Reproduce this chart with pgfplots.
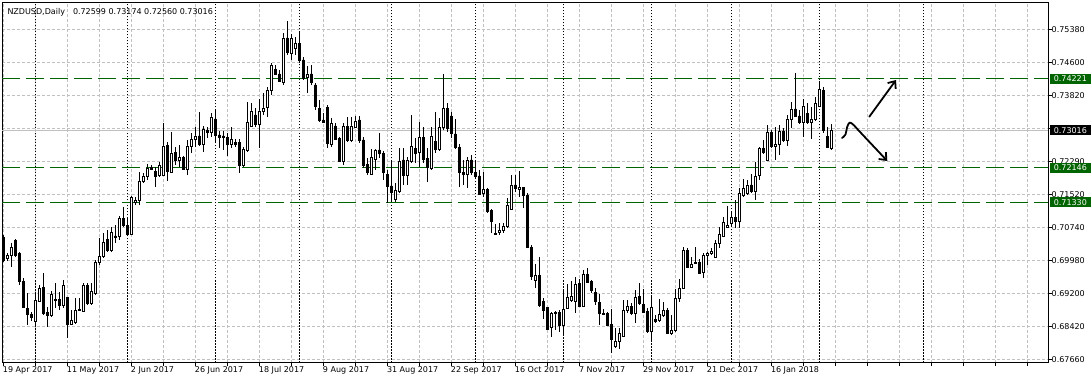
\documentclass[border=0pt]{standalone}
\usepackage{fontspec}
\setmainfont{DejaVu Sans}
\usepackage{pgfplots}
\usepackage{pgfplotstable}
\pgfplotsset{compat=1.18}
\usetikzlibrary{arrows.meta}
\definecolor{mtgreen}{RGB}{0,100,0}
\definecolor{mtgrid}{RGB}{192,192,192}

\pgfplotstableread{
j o h l c
0 0.70513 0.70568 0.69944 0.69983
1 0.70022 0.70155 0.69967 0.70100
2 0.70084 0.70373 0.69827 0.70279
3 0.70451 0.70482 0.70061 0.70084
4 0.70139 0.70162 0.69398 0.69476
5 0.69476 0.69554 0.68852 0.68875
6 0.68852 0.69203 0.68462 0.68712
7 0.68719 0.68774 0.68563 0.68634
8 0.68540 0.69203 0.68462 0.69047
9 0.69024 0.69398 0.69008 0.69320
10 0.69343 0.69671 0.68696 0.68735
11 0.68758 0.68891 0.68407 0.68680
12 0.68696 0.69265 0.68657 0.69180
13 0.69063 0.69437 0.68852 0.69031
14 0.69070 0.69242 0.68813 0.68914
15 0.68930 0.69515 0.68852 0.69398
16 0.69102 0.69110 0.68166 0.68478
17 0.68478 0.68813 0.68462 0.68579
18 0.68517 0.69086 0.68485 0.68813
19 0.68813 0.69086 0.68797 0.68829
20 0.68790 0.69453 0.68774 0.69398
21 0.69398 0.69453 0.68930 0.68969
22 0.68969 0.69437 0.68930 0.69258
23 0.69203 0.69983 0.69164 0.69928
24 0.69928 0.70490 0.69866 0.70061
25 0.70061 0.70607 0.70022 0.70396
26 0.70467 0.70685 0.70178 0.70201
27 0.70201 0.70763 0.70178 0.70630
28 0.70545 0.70802 0.70373 0.70513
29 0.70545 0.71013 0.70451 0.70958
30 0.70958 0.71215 0.70763 0.70786
31 0.70786 0.70997 0.70568 0.70584
32 0.70584 0.71481 0.70568 0.71449
33 0.71340 0.71465 0.71270 0.71387
34 0.71387 0.72050 0.71270 0.71816
35 0.71816 0.72011 0.71777 0.71949
36 0.71933 0.72222 0.71855 0.72128
37 0.72144 0.72206 0.72089 0.72105
38 0.72050 0.72167 0.71699 0.71933
39 0.71972 0.72284 0.71933 0.72198
40 0.71972 0.73181 0.71956 0.72651
41 0.72666 0.72752 0.71839 0.72050
42 0.72027 0.72986 0.72011 0.72487
43 0.72502 0.72635 0.72206 0.72323
44 0.72307 0.72674 0.72167 0.72385
45 0.72385 0.72417 0.72089 0.72105
46 0.72105 0.72791 0.71972 0.72651
47 0.72635 0.72963 0.72479 0.72807
48 0.72807 0.73103 0.72635 0.72885
49 0.72885 0.73446 0.72658 0.72682
50 0.72697 0.73119 0.72518 0.73041
51 0.73025 0.73087 0.72830 0.72963
52 0.72963 0.73431 0.72869 0.73329
53 0.73282 0.73493 0.72713 0.72908
54 0.72908 0.73009 0.72596 0.72853
55 0.72885 0.73009 0.72557 0.72846
56 0.72853 0.72963 0.72424 0.72697
57 0.72697 0.73103 0.72596 0.72807
58 0.72729 0.72807 0.72635 0.72697
59 0.72729 0.72807 0.72011 0.72190
60 0.72206 0.72635 0.72167 0.72573
61 0.72541 0.73688 0.72518 0.73197
62 0.73119 0.73649 0.73103 0.73470
63 0.73376 0.73532 0.73103 0.73165
64 0.73165 0.73743 0.72596 0.73470
65 0.73454 0.73883 0.73376 0.73540
66 0.73555 0.74039 0.73337 0.73961
67 0.73961 0.74601 0.73844 0.74546
68 0.74445 0.74538 0.74312 0.74335
69 0.74335 0.74429 0.74150 0.74156
70 0.74133 0.75287 0.74078 0.75178
71 0.75178 0.75576 0.74780 0.74835
72 0.74819 0.75264 0.74663 0.75170
73 0.74936 0.75209 0.74780 0.75053
74 0.75053 0.75326 0.74585 0.74647
75 0.74663 0.74741 0.74195 0.74234
76 0.74257 0.74523 0.73883 0.74335
77 0.74335 0.74546 0.74078 0.74133
78 0.74078 0.74117 0.73493 0.73587
79 0.73524 0.73727 0.73220 0.73243
80 0.73259 0.73415 0.73181 0.73197
81 0.73555 0.73610 0.72596 0.72713
82 0.72697 0.73298 0.72635 0.73181
83 0.73119 0.73181 0.72791 0.72807
84 0.72830 0.72869 0.72270 0.72284
85 0.72284 0.73181 0.72206 0.73103
86 0.73103 0.73337 0.72752 0.72791
87 0.72775 0.73337 0.72752 0.73119
88 0.73087 0.73353 0.73064 0.73236
89 0.73259 0.73353 0.72729 0.72775
90 0.72791 0.72869 0.72128 0.72206
91 0.72229 0.72362 0.71972 0.72027
92 0.71988 0.72573 0.71972 0.72385
93 0.72339 0.72573 0.72089 0.72557
94 0.72557 0.72963 0.72362 0.72479
95 0.72479 0.72541 0.71855 0.72034
96 0.71995 0.72089 0.71325 0.71699
97 0.71715 0.72300 0.71348 0.71559
98 0.71403 0.71793 0.71348 0.71605
99 0.71582 0.72596 0.71559 0.72284
100 0.72323 0.72596 0.71738 0.71956
101 0.71956 0.72385 0.71738 0.72323
102 0.72284 0.73376 0.72245 0.72635
103 0.72596 0.72830 0.72245 0.72479
104 0.72495 0.73220 0.72167 0.72846
105 0.72853 0.73103 0.72245 0.72346
106 0.72362 0.72596 0.71816 0.72144
107 0.72128 0.73087 0.72089 0.72885
108 0.72752 0.73454 0.72479 0.72573
109 0.72573 0.73298 0.72541 0.73087
110 0.73080 0.74335 0.73025 0.73532
111 0.73532 0.73649 0.72986 0.73064
112 0.73353 0.73454 0.72830 0.72947
113 0.72931 0.73282 0.72573 0.72619
114 0.72619 0.72697 0.71699 0.72027
115 0.72027 0.72323 0.71738 0.71988
116 0.71995 0.72401 0.71660 0.72323
117 0.72323 0.72440 0.71972 0.72027
118 0.72034 0.72323 0.71894 0.71933
119 0.71949 0.72089 0.71504 0.71527
120 0.71543 0.72050 0.71465 0.71644
121 0.71644 0.71660 0.71091 0.71114
122 0.71137 0.71169 0.70607 0.70880
123 0.70607 0.70825 0.70568 0.70584
124 0.70630 0.70857 0.70568 0.70685
125 0.70669 0.70857 0.70607 0.70779
126 0.70763 0.71426 0.70740 0.71270
127 0.71176 0.71972 0.71153 0.71738
128 0.71738 0.71972 0.71582 0.71660
129 0.71637 0.72066 0.71465 0.71683
130 0.71676 0.71699 0.71192 0.71488
131 0.71504 0.71543 0.70256 0.70279
132 0.70279 0.70334 0.69515 0.69593
133 0.69499 0.69889 0.69320 0.69632
134 0.69632 0.70061 0.68891 0.68930
135 0.69008 0.69086 0.68595 0.68813
136 0.68875 0.68891 0.68345 0.68361
137 0.68407 0.68774 0.68173 0.68735
138 0.68758 0.68797 0.68345 0.68735
139 0.68758 0.68813 0.68306 0.68462
140 0.68462 0.69297 0.68228 0.68829
141 0.68852 0.69421 0.68829 0.69109
142 0.69047 0.69499 0.69008 0.69125
143 0.69008 0.69593 0.68751 0.69421
144 0.69437 0.69531 0.68891 0.68907
145 0.68907 0.69749 0.68891 0.69648
146 0.69648 0.69788 0.69453 0.69468
147 0.69476 0.69515 0.69203 0.69281
148 0.69219 0.69320 0.68930 0.69008
149 0.68985 0.69187 0.68462 0.68735
150 0.68735 0.68829 0.68696 0.68719
151 0.68735 0.68774 0.68439 0.68462
152 0.68485 0.68829 0.67799 0.68127
153 0.67955 0.68384 0.67916 0.68088
154 0.68088 0.68384 0.67893 0.68267
155 0.68189 0.69047 0.68173 0.68813
156 0.68813 0.69047 0.68735 0.68891
157 0.68891 0.68969 0.68696 0.68735
158 0.68735 0.69281 0.68517 0.69109
159 0.69125 0.69437 0.68930 0.68969
160 0.68953 0.69297 0.68735 0.68758
161 0.68790 0.68852 0.68283 0.68306
162 0.68306 0.69141 0.68095 0.68875
163 0.68595 0.68696 0.68517 0.68556
164 0.68563 0.69063 0.68540 0.68719
165 0.68696 0.69008 0.68657 0.68797
166 0.68813 0.68852 0.68244 0.68267
167 0.68267 0.68696 0.68228 0.68345
168 0.68329 0.69297 0.68306 0.69086
169 0.69086 0.69531 0.69008 0.69320
170 0.69320 0.70279 0.69297 0.70217
171 0.70217 0.70256 0.69788 0.69811
172 0.69804 0.70061 0.69788 0.69882
173 0.69936 0.70295 0.69897 0.69905
174 0.69936 0.69999 0.69655 0.69671
175 0.69687 0.70139 0.69554 0.70100
176 0.70092 0.70178 0.69866 0.70139
177 0.70139 0.70256 0.70100 0.70194
178 0.70045 0.70451 0.70022 0.70373
179 0.70373 0.70763 0.70256 0.70584
180 0.70545 0.70997 0.70513 0.70872
181 0.70747 0.71247 0.70724 0.70802
182 0.70841 0.71114 0.70763 0.70981
183 0.70981 0.71387 0.70724 0.70880
184 0.70880 0.71660 0.70724 0.71543
185 0.71504 0.71878 0.71465 0.71660
186 0.71543 0.71855 0.71504 0.71738
187 0.71738 0.71995 0.71559 0.71582
188 0.71582 0.72284 0.71387 0.71933
189 0.71956 0.72635 0.71855 0.72596
190 0.72596 0.72791 0.72463 0.72495
191 0.72323 0.73142 0.72307 0.72963
192 0.72963 0.73025 0.72596 0.72635
193 0.72635 0.73103 0.72323 0.72697
194 0.72690 0.73142 0.72440 0.72986
195 0.73002 0.73064 0.72752 0.72775
196 0.72775 0.73376 0.72651 0.73282
197 0.73275 0.73688 0.73064 0.73516
198 0.73516 0.74367 0.73321 0.73353
199 0.73353 0.73493 0.73165 0.73197
200 0.73197 0.73743 0.72869 0.73587
201 0.73415 0.73649 0.73165 0.73204
202 0.73204 0.73571 0.72807 0.73282
203 0.73275 0.73805 0.73243 0.73649
204 0.73587 0.74179 0.73571 0.73977
205 0.73945 0.74039 0.72947 0.73009
206 0.72869 0.73103 0.72596 0.72619
207 0.72599 0.73174 0.72560 0.73016
}\candles

\pgfplotsset{
  mtframe/.style={
    scale only axis, width=1046pt, height=360pt,
    xmin=-0.325, xmax=261.175, ymin=0.675858, ymax=0.760069,
    enlargelimits=false,
  }
}

\begin{document}
\begin{tikzpicture}[font=\fontsize{8}{9.6}\selectfont]
\begin{axis}[
  mtframe,
  axis line style={black, line width=0.8pt},
  xtick={0,8,...,256},
  xticklabels={19 Apr 2017,,11 May 2017,,2 Jun 2017,,26 Jun 2017,,18 Jul 2017,,9 Aug 2017,,31 Aug 2017,,22 Sep 2017,,16 Oct 2017,,7 Nov 2017,,29 Nov 2017,,21 Dec 2017,,16 Jan 2018},
  ytick={0.67660,0.68432,0.69204,0.69976,0.70748,0.71520,0.72292,0.73064,0.73836,0.74608,0.75380},
  yticklabels={0.67660,0.68420,0.69200,0.69980,0.70740,0.71520,0.72290,,0.73820,0.74600,0.75380},
  xtick pos=left, ytick pos=right, yticklabel pos=right,
  tick align=outside, major tick length=3.5pt,
  tick style={black, line width=0.6pt},
  xticklabel style={anchor=north west, inner sep=0pt, xshift=-0.5pt},
  yticklabel style={anchor=west, inner sep=0pt},
  grid=major,
  major grid style={mtgrid, line width=0.7pt, dash pattern=on 3pt off 2pt},
  extra x ticks={8,31,53,74,97,118,140,162,182,204,230},
  extra x tick labels={},
  extra x tick style={grid=major, major tick length=0pt,
    major grid style={black, line width=0.7pt, dash pattern=on 1.5pt off 1.5pt}},
]
\addplot[mtgrid, line width=1pt, forget plot] coordinates {(-0.325,0.73016) (261.175,0.73016)};
\addplot[mtgreen, line width=1.1pt, dash pattern=on 18pt off 6pt, forget plot] coordinates {(-0.325,0.74221) (261.175,0.74221)};
\addplot[mtgreen, line width=1.1pt, dash pattern=on 18pt off 6pt, forget plot] coordinates {(-0.325,0.72146) (261.175,0.72146)};
\addplot[mtgreen, line width=1.1pt, dash pattern=on 18pt off 6pt, forget plot] coordinates {(-0.325,0.71330) (261.175,0.71330)};
\addplot[draw=none, mark=none, forget plot,
  error bars/.cd, y dir=both, y explicit, error mark=none,
  error bar style={draw=black, solid, line width=1pt}]
  table[x=j, y expr={(\thisrow{h}+\thisrow{l})/2}, y error expr={(\thisrow{h}-\thisrow{l})/2}] {\candles};
\coordinate (pA) at (axis cs:261.175,0.74221);
\coordinate (pB) at (axis cs:261.175,0.73016);
\coordinate (pC) at (axis cs:261.175,0.72146);
\coordinate (pD) at (axis cs:261.175,0.71330);
\end{axis}
\begin{axis}[mtframe, hide axis, ybar stacked, bar width=2.2pt]
\addplot[draw=none, fill=none] table[x=j, y expr={min(\thisrow{o},\thisrow{c})}] {\candles};
\addplot[draw=black, fill=white, line width=0.8pt] table[x=j, y expr={max(\thisrow{c}-\thisrow{o},0)}] {\candles};
\addplot[draw=black, fill=black, line width=0.8pt] table[x=j, y expr={max(\thisrow{o}-\thisrow{c},0)}] {\candles};
\end{axis}
\tikzset{pricebox/.style={anchor=west, text=white, inner xsep=4.35pt, inner ysep=0pt, minimum height=10pt, text width=33pt, xshift=1.3pt}}
\node[pricebox, fill=mtgreen] at (pA) {0.74221};
\node[pricebox, fill=black] at (pB) {0.73016};
\node[pricebox, fill=mtgreen] at (pC) {0.72146};
\node[pricebox, fill=mtgreen] at (pD) {0.71330};
\node[anchor=base west, inner sep=0pt] at (5.3pt,348pt) {NZDUSD,Daily\hspace{8pt}0.72599 0.73174 0.72560 0.73016};
\begin{scope}[shift={(-2pt,362.5pt)}, x=1pt, y=-1pt, line width=1.8pt, line cap=round, line join=round]
\draw[-{Straight Barb[length=6pt,width=10pt]}] (869.3,116.7) -- (896,80);
\draw[-{Straight Barb[length=6pt,width=10pt]}] plot[smooth, tension=0.6] coordinates {(842,138) (845.5,134.5) (847,127.5) (849.5,122.7) (853,124.5) (858,129.8)} -- (887.3,161);
\end{scope}
\pgfresetboundingbox
\useasboundingbox (-2pt,-20.5pt) rectangle (1089pt,362.5pt);
\end{tikzpicture}
\end{document}
